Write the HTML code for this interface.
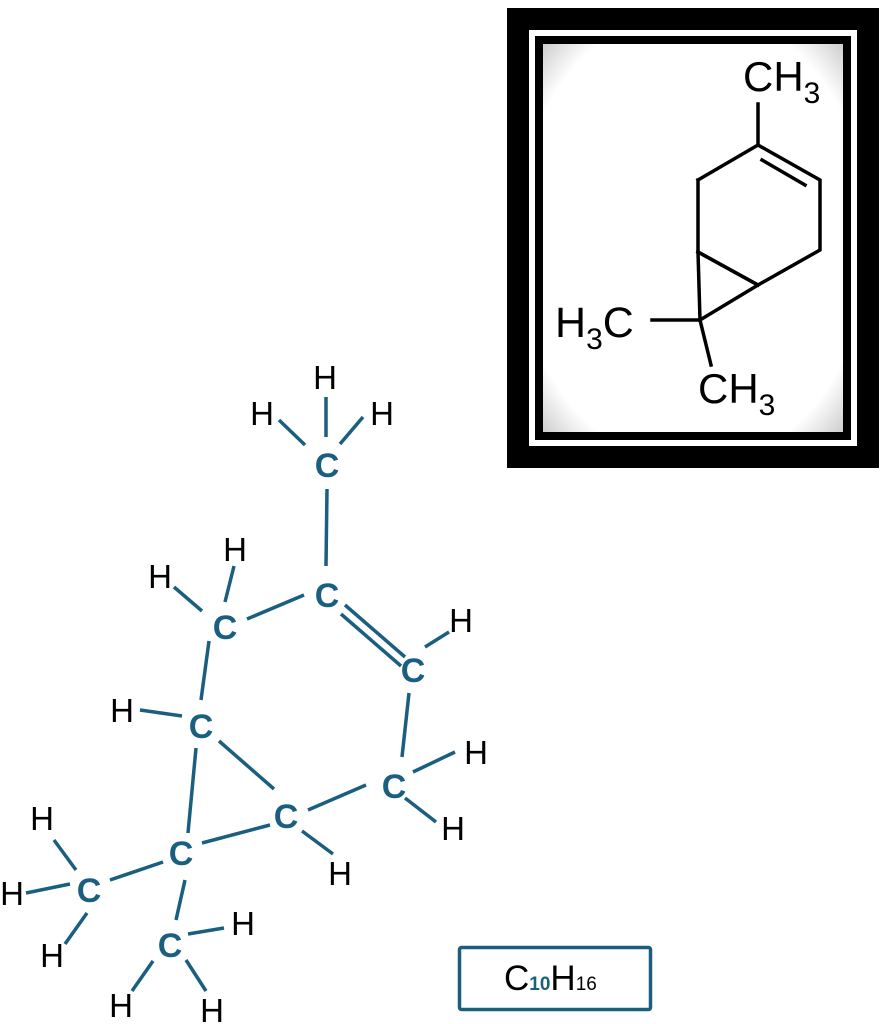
<!DOCTYPE html>
<html><head><meta charset="utf-8"><style>
html,body{margin:0;padding:0;background:#fff;}
svg{display:block;}
</style></head><body>
<svg width="889" height="1024" viewBox="0 0 889 1024" xmlns="http://www.w3.org/2000/svg">
<defs>
<radialGradient id="vg" cx="50%" cy="50%" r="72%">
<stop offset="0.82" stop-color="#ffffff"/>
<stop offset="1" stop-color="#c8c8c8"/>
</radialGradient>
</defs>
<rect x="507" y="8" width="372" height="460" fill="#000"/>
<rect x="529" y="30" width="328" height="416" fill="#fff"/>
<rect x="535" y="36" width="316" height="404" fill="#000"/>
<rect x="543" y="44" width="300" height="388" fill="url(#vg)"/>
<g stroke="#000" stroke-width="3.5" fill="none" stroke-linecap="square">
<line x1="758" y1="104" x2="758" y2="145"/>
<polyline points="698,180 758,145 820,180 820,250 758,285 698,252 698,180"/>
<line x1="698" y1="252" x2="758" y2="285"/>
<line x1="762" y1="160" x2="805" y2="185"/>
<line x1="700" y1="320" x2="758" y2="285"/>
<line x1="698" y1="252" x2="700" y2="320"/>
<line x1="652" y1="320" x2="700" y2="320"/>
<line x1="700" y1="320" x2="711" y2="365"/>
</g>
<g font-family="Liberation Sans, sans-serif" fill="#000">
<text x="743" y="91" font-size="42">CH<tspan font-size="30" dy="12">3</tspan></text>
<text x="555" y="337" font-size="43">H<tspan font-size="30" dy="12">3</tspan><tspan dy="-12">C</tspan></text>
<text x="698" y="403" font-size="42">CH<tspan font-size="30" dy="12">3</tspan></text>
</g>
<g stroke="#1a5e80" stroke-width="3.5" stroke-linecap="butt">
<line x1="326" y1="397" x2="326" y2="437"/>
<line x1="279" y1="420" x2="305" y2="445"/>
<line x1="363" y1="417" x2="340" y2="444"/>
<line x1="327" y1="489" x2="326" y2="566"/>
<line x1="304" y1="595" x2="247" y2="619"/>
<line x1="234" y1="566" x2="225" y2="602"/>
<line x1="174" y1="587" x2="202" y2="611"/>
<line x1="209" y1="641" x2="201" y2="700"/>
<line x1="345" y1="605" x2="405" y2="657"/>
<line x1="341" y1="614" x2="401" y2="666"/>
<line x1="425" y1="647" x2="449" y2="632"/>
<line x1="140" y1="710" x2="182" y2="716"/>
<line x1="196" y1="748" x2="188" y2="833"/>
<line x1="219" y1="741" x2="274" y2="789"/>
<line x1="409" y1="693" x2="402" y2="757"/>
<line x1="413" y1="772" x2="455" y2="752"/>
<line x1="405" y1="798" x2="436" y2="822"/>
<line x1="308" y1="810" x2="366" y2="785"/>
<line x1="302" y1="831" x2="333" y2="854"/>
<line x1="202" y1="843" x2="270" y2="825"/>
<line x1="110" y1="880" x2="163" y2="862"/>
<line x1="54" y1="840" x2="76" y2="870"/>
<line x1="26" y1="893" x2="70" y2="884"/>
<line x1="65" y1="944" x2="87" y2="913"/>
<line x1="185" y1="880" x2="176" y2="920"/>
<line x1="188" y1="934" x2="224" y2="928"/>
<line x1="132" y1="991" x2="153" y2="961"/>
<line x1="186" y1="960" x2="206" y2="991"/>
</g>
<g font-family="Liberation Sans, sans-serif" font-weight="bold" font-size="34" fill="#1a5e80" text-anchor="middle">
<text x="327" y="477">C</text>
<text x="327" y="607">C</text>
<text x="225" y="639">C</text>
<text x="413" y="682">C</text>
<text x="201" y="738">C</text>
<text x="394" y="798">C</text>
<text x="286" y="828">C</text>
<text x="181" y="865">C</text>
<text x="89" y="902">C</text>
<text x="170" y="957">C</text>
</g>
<g font-family="Liberation Sans, sans-serif" font-size="33" fill="#000" text-anchor="middle">
<text x="325" y="389">H</text>
<text x="262" y="425">H</text>
<text x="382" y="425">H</text>
<text x="235" y="561">H</text>
<text x="160" y="588">H</text>
<text x="461" y="632">H</text>
<text x="122" y="722">H</text>
<text x="476" y="764">H</text>
<text x="453" y="840">H</text>
<text x="340" y="885">H</text>
<text x="42" y="830">H</text>
<text x="12" y="905">H</text>
<text x="52" y="967">H</text>
<text x="243" y="935">H</text>
<text x="121" y="1017">H</text>
<text x="212" y="1022">H</text>
</g>
<rect x="459.5" y="947.5" width="191" height="62" rx="2" fill="#fff" stroke="#1a5e80" stroke-width="3.5"/>
<text x="504" y="990" font-family="Liberation Sans, sans-serif" font-size="35" fill="#000">C<tspan font-size="19" font-weight="bold" fill="#1a5e80">10</tspan>H<tspan font-size="19">16</tspan></text>
</svg>
</body></html>
